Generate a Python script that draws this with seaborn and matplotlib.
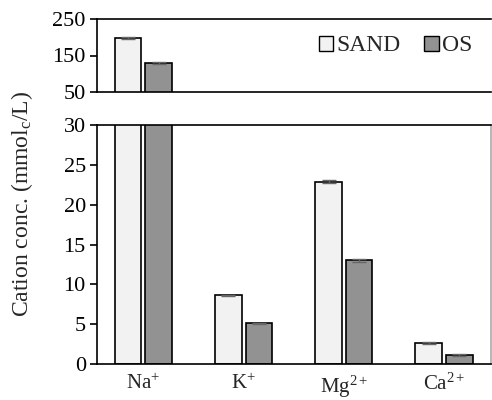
import pandas as pd
import numpy as np
import seaborn as sns
import matplotlib
matplotlib.use('Agg')
import matplotlib.pyplot as plt

cations = ['Na$^{+}$', 'K$^{+}$', 'Mg$^{2+}$', 'Ca$^{2+}$']
treatments = ['SAND', 'OS']
sand_vals = [198.0, 8.6, 22.9, 2.6]
os_vals = [130.0, 5.1, 13.0, 1.1]
sand_err = [3.0, 0.1, 0.2, 0.1]
os_err = [2.0, 0.1, 0.2, 0.1]

df = pd.DataFrame({
    'cation': cations * 2,
    'treatment': ['SAND'] * 4 + ['OS'] * 4,
    'value': sand_vals + os_vals,
    'err': sand_err + os_err,
})

sns.set_theme(style='white')
plt.rcParams['font.family'] = ['Liberation Serif', 'DejaVu Serif']
plt.rcParams['mathtext.fontset'] = 'custom'
plt.rcParams['mathtext.rm'] = 'Liberation Serif'
plt.rcParams['mathtext.it'] = 'Liberation Serif:italic'
plt.rcParams['mathtext.default'] = 'rm'

palette = {'SAND': '#f2f2f2', 'OS': '#929292'}

fig = plt.figure(figsize=(4.92, 4.0), dpi=100)
ax_top = fig.add_axes([0.197, 0.77, 0.800, 0.1825])
ax_bot = fig.add_axes([0.197, 0.09, 0.800, 0.5975])

for ax in (ax_top, ax_bot):
    sns.barplot(data=df, x='cation', y='value', hue='treatment', hue_order=treatments,
                order=cations, palette=palette, width=0.61, gap=0.13,
                edgecolor='black', linewidth=1.2, errorbar=None, legend=(ax is ax_top), ax=ax)
    # error bars on bar centres
    for cont, t in zip(ax.containers, treatments):
        errs = df[df['treatment'] == t]['err'].values
        for bar, e in zip(cont, errs):
            ax.errorbar(bar.get_x() + bar.get_width() / 2, bar.get_height(), yerr=e,
                        fmt='none', ecolor='#666666', elinewidth=1, capsize=5, capthick=1)
    ax.set_xlabel('')
    ax.set_ylabel('')
    ax.tick_params(axis='y', which='major', direction='out', length=5, width=1.2,
                   left=True, labelsize=16, colors='black', pad=3)
    ax.tick_params(axis='x', length=0, labelsize=15, pad=7)
    for s in ax.spines.values():
        s.set_color('black')
        s.set_linewidth(1.2)

ax_top.set_ylim(50, 250)
ax_top.set_yticks([50, 150, 250])
ax_top.set_xticklabels([])
ax_top.tick_params(axis='x', bottom=False)
ax_top.spines['right'].set_visible(False)

ax_bot.set_ylim(0, 30)
ax_bot.set_yticks(range(0, 31, 5))
ax_bot.spines['right'].set_color('#aaaaaa')

leg = ax_top.legend(loc='upper right', ncol=2, frameon=False, fontsize=17,
                    handlelength=0.6, handleheight=0.6, handletextpad=0.15,
                    columnspacing=1.0, borderaxespad=0.2, bbox_to_anchor=(0.99, 0.97))
for h in leg.legend_handles:
    h.set_edgecolor('black')
    h.set_linewidth(1.0)

fig.text(0.045, 0.49, 'Cation conc. (mmol$_c$/L)', rotation=90, va='center', ha='center',
         fontsize=17)

plt.savefig('out.png', dpi=100)
